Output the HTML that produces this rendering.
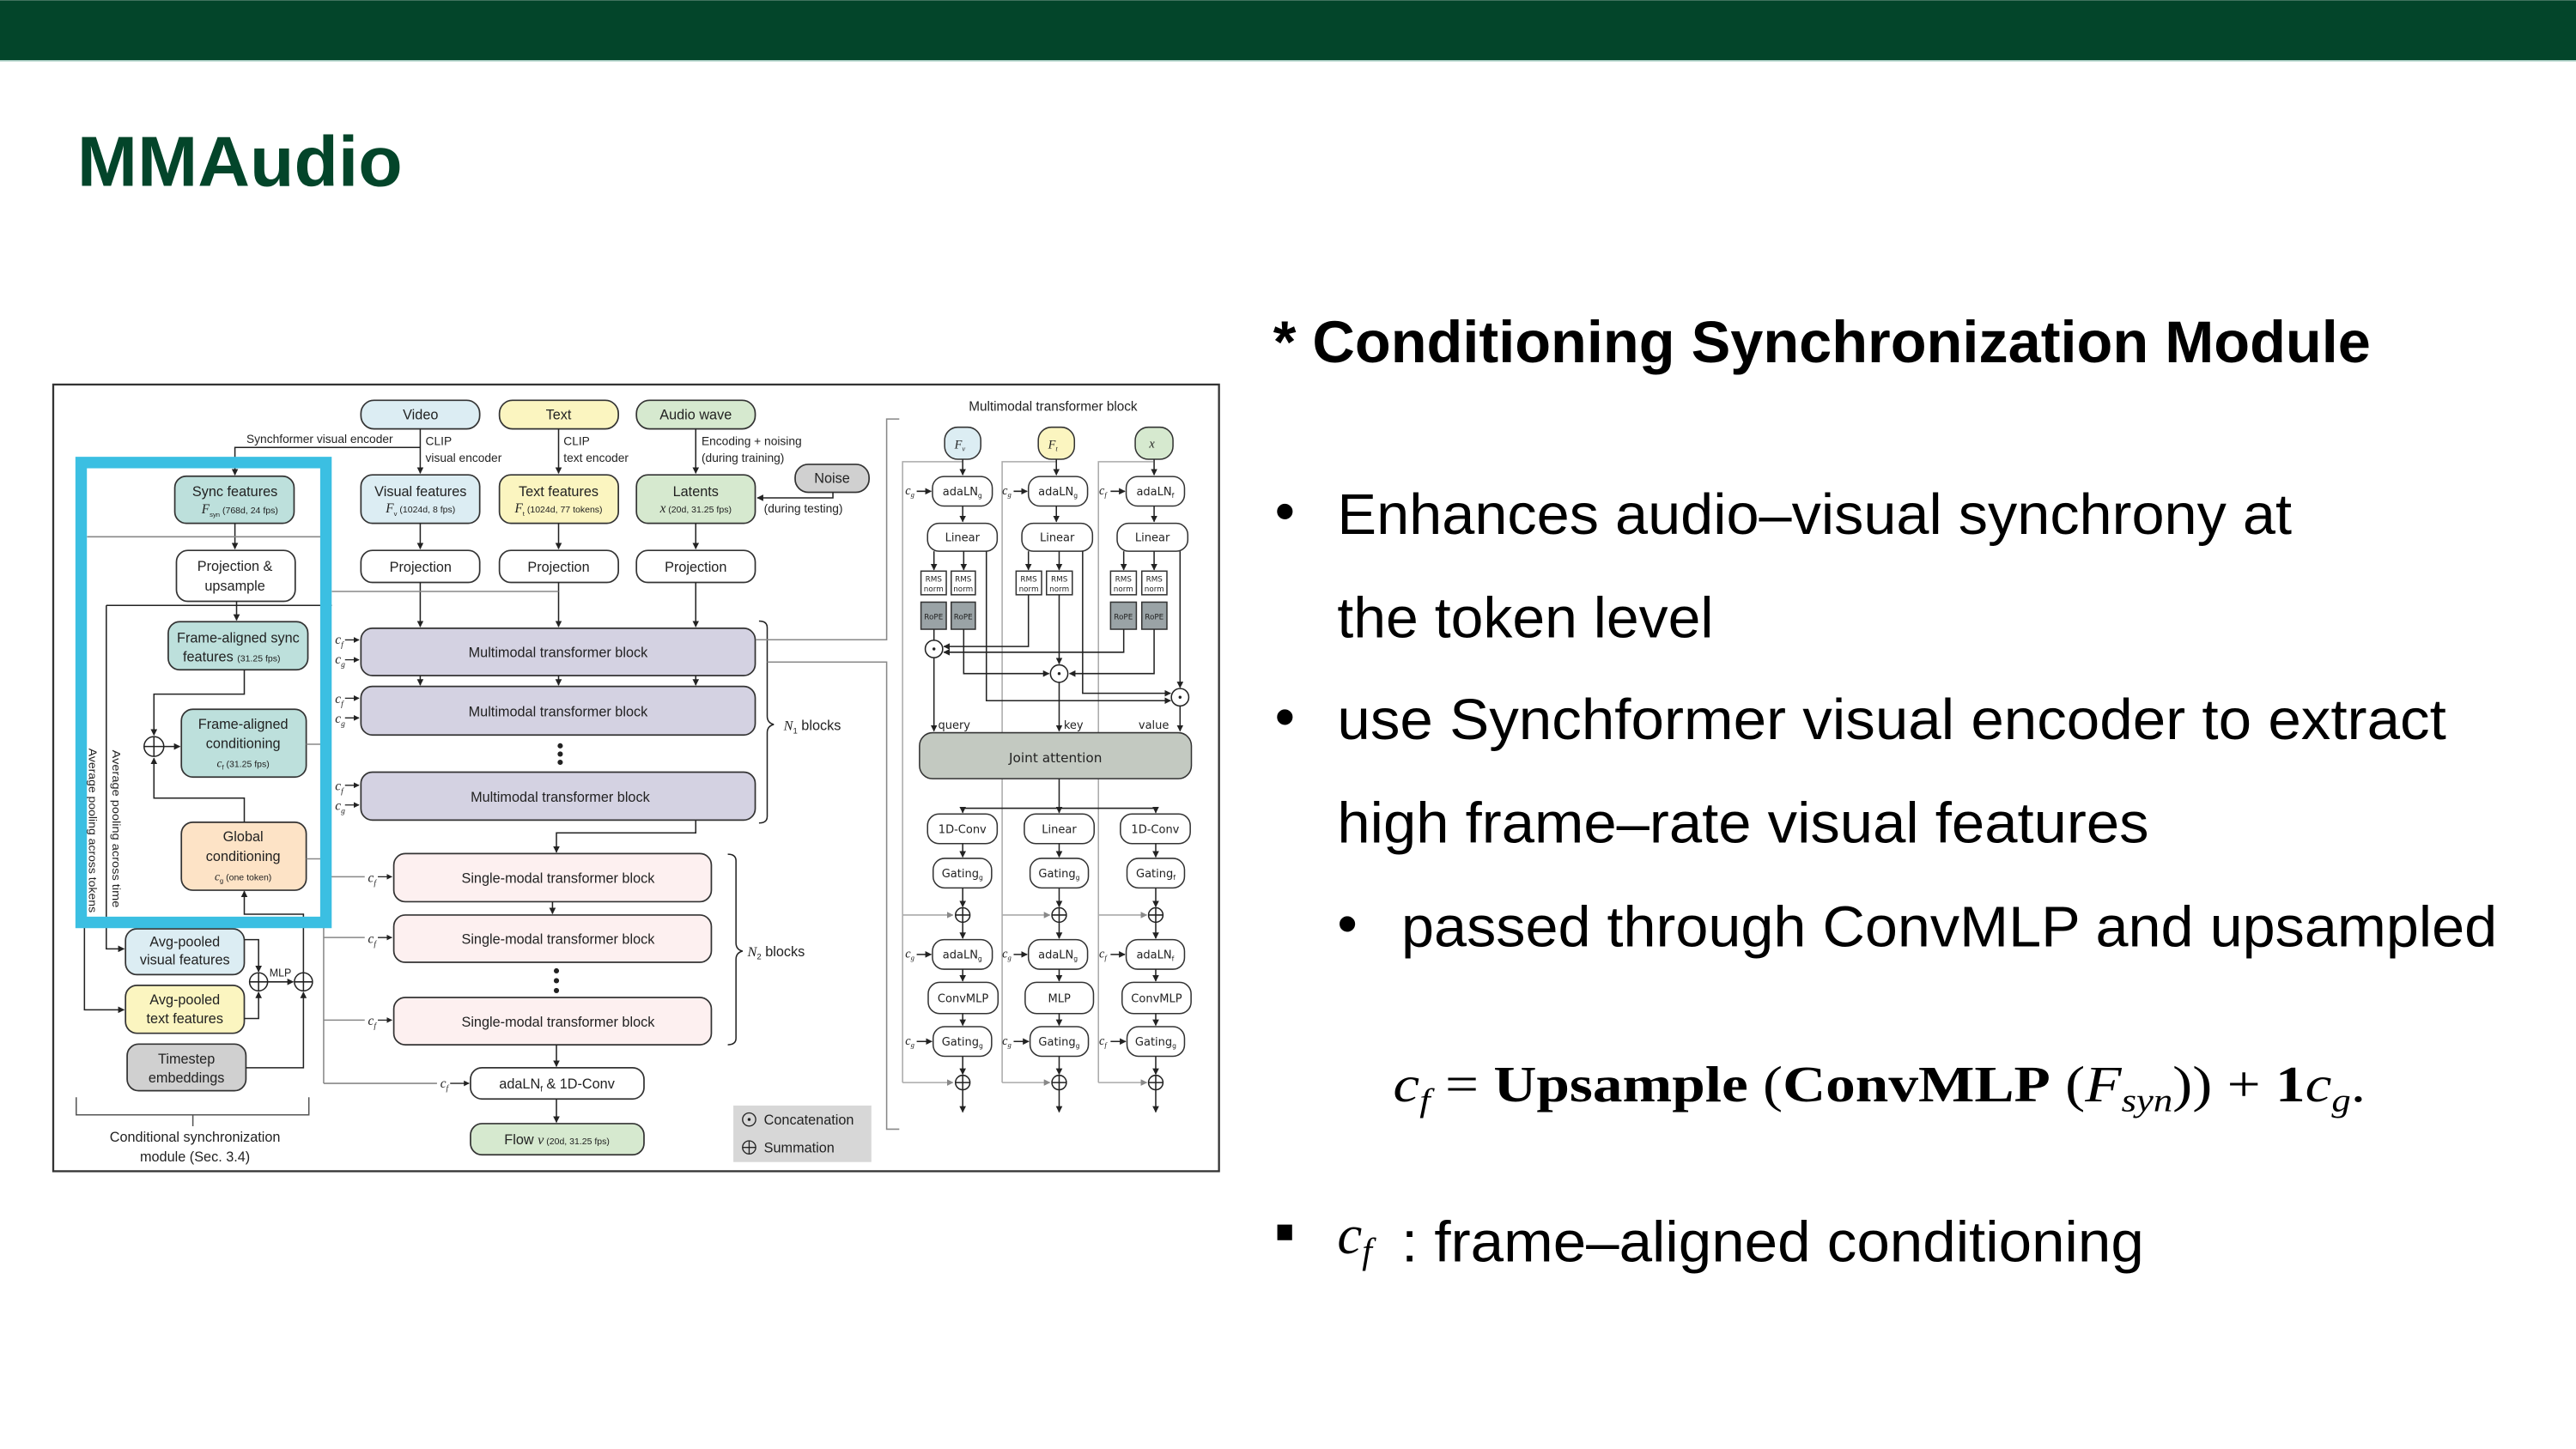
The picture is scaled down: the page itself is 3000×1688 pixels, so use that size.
<!DOCTYPE html>
<html><head><meta charset="utf-8"><style>
html,body{margin:0;padding:0;background:#fff;}
svg{display:block;}
</style></head><body>
<svg width="3000" height="1688" viewBox="0 0 1568 882" xmlns="http://www.w3.org/2000/svg" font-family="Liberation Sans, sans-serif">
<defs>
<marker id="a" viewBox="0 0 10 10" refX="9" refY="5" markerWidth="5" markerHeight="5" orient="auto"><path d="M0,0 L10,5 L0,10 z" fill="#222"/></marker>
<marker id="g" viewBox="0 0 10 10" refX="9" refY="5" markerWidth="5" markerHeight="5" orient="auto"><path d="M0,0 L10,5 L0,10 z" fill="#888"/></marker>
</defs>
<rect x="0" y="0" width="1568" height="882" fill="#fff"/>
<rect x="0" y="0" width="1568" height="36.5" fill="#03452a"/>
<rect x="0" y="36.5" width="1568" height="0.8" fill="#a9cfc4"/>
<text x="47" y="113" font-size="43" font-weight="bold" fill="#03452a" textLength="198" lengthAdjust="spacingAndGlyphs">MMAudio</text>

<!-- right text -->
<text x="775" y="220.5" font-size="36" font-weight="bold" fill="#000" textLength="668" lengthAdjust="spacingAndGlyphs">* Conditioning Synchronization Module</text>
<g font-size="35" fill="#000">
<text x="776" y="323">•</text>
<text x="814" y="325" textLength="581" lengthAdjust="spacingAndGlyphs">Enhances audio–visual synchrony at</text>
<text x="814" y="388" textLength="229" lengthAdjust="spacingAndGlyphs">the token level</text>
<text x="776" y="448">•</text>
<text x="814" y="450" textLength="675" lengthAdjust="spacingAndGlyphs">use Synchformer visual encoder to extract</text>
<text x="814" y="513" textLength="494" lengthAdjust="spacingAndGlyphs">high frame–rate visual features</text>
<text x="814" y="574">•</text>
<text x="853" y="576" textLength="667" lengthAdjust="spacingAndGlyphs">passed through ConvMLP and upsampled</text>
</g>
<text x="848" y="670.5" font-family="Liberation Serif, serif" font-size="31" fill="#000" textLength="592" lengthAdjust="spacingAndGlyphs"><tspan font-style="italic">c</tspan><tspan font-style="italic" font-size="20" dy="6">f</tspan><tspan dy="-6"> = </tspan><tspan font-weight="bold">Upsample</tspan> (<tspan font-weight="bold">ConvMLP</tspan> (<tspan font-style="italic">F</tspan><tspan font-style="italic" font-size="20" dy="6">syn</tspan><tspan dy="-6">)) + </tspan><tspan font-weight="bold">1</tspan><tspan font-style="italic">c</tspan><tspan font-style="italic" font-size="20" dy="6">g</tspan><tspan dy="-6">.</tspan></text>
<rect x="777.5" y="745.5" width="9" height="9.5" fill="#000"/>
<text x="814" y="763" font-family="Liberation Serif, serif" font-style="italic" font-size="34">c<tspan font-size="22" dy="6">f</tspan></text>
<text x="853" y="768" font-size="35" fill="#000" textLength="452" lengthAdjust="spacingAndGlyphs">: frame–aligned conditioning</text>

<!-- diagram frame -->
<rect x="32.4" y="234" width="709.6" height="479" fill="#fff" stroke="#333" stroke-width="1.2"/>

<g stroke="#333" stroke-width="0.9">
<rect x="219.7" y="243.6" width="72.3" height="17.4" rx="8" fill="#dcedf3"/>
<rect x="304" y="243.6" width="72.4" height="17.4" rx="8" fill="#fbf5c0"/>
<rect x="387.4" y="243.6" width="72.3" height="17.4" rx="8" fill="#d6e9cf"/>
<rect x="106.4" y="289.8" width="72.6" height="28.7" rx="7" fill="#bde0dc"/>
<rect x="219.7" y="289" width="72.3" height="29.5" rx="7" fill="#dcedf3"/>
<rect x="304" y="289" width="72.4" height="29.5" rx="7" fill="#fbf5c0"/>
<rect x="387.4" y="289" width="72.3" height="29.5" rx="7" fill="#d6e9cf"/>
<rect x="484" y="282.6" width="45" height="17" rx="8" fill="#d0d0d0"/>
<rect x="107.4" y="335" width="72.3" height="31" rx="7" fill="#fff"/>
<rect x="219.7" y="335" width="72.3" height="19.5" rx="7" fill="#fff"/>
<rect x="304" y="335" width="72.4" height="19.5" rx="7" fill="#fff"/>
<rect x="387.4" y="335" width="72.3" height="19.5" rx="7" fill="#fff"/>
<rect x="102.4" y="378.4" width="85" height="29.3" rx="7" fill="#bde0dc"/>
<rect x="110.4" y="431.7" width="76" height="41.3" rx="7" fill="#bde0dc"/>
<rect x="110.4" y="500.5" width="76" height="41.4" rx="7" fill="#fde3c6"/>
<rect x="219.7" y="382.4" width="240" height="28.8" rx="7" fill="#d4d2e2"/>
<rect x="219.7" y="417.8" width="240" height="29.6" rx="7" fill="#d4d2e2"/>
<rect x="219.7" y="470" width="240" height="29.2" rx="7" fill="#d4d2e2"/>
<rect x="239.7" y="519.6" width="193.3" height="29.3" rx="7" fill="#fdf0f0"/>
<rect x="239.7" y="557" width="193.3" height="28.8" rx="7" fill="#fdf0f0"/>
<rect x="239.7" y="607.2" width="193.3" height="28.8" rx="7" fill="#fdf0f0"/>
<rect x="286.4" y="650" width="105.6" height="19" rx="7" fill="#fff"/>
<rect x="286.4" y="684" width="105.6" height="19" rx="7" fill="#d6e9cf"/>
<rect x="76.4" y="565.4" width="72.3" height="27.9" rx="7" fill="#dcedf3"/>
<rect x="76.4" y="599.8" width="72.3" height="29.2" rx="7" fill="#fbf5c0"/>
<rect x="77.4" y="635.6" width="72.3" height="28.4" rx="7" fill="#d0d0d0"/>
</g>
<rect x="446.4" y="673" width="84" height="34.4" fill="#d7d7d7"/>

<g stroke="#222" stroke-width="0.8" fill="none">
<path d="M255.8,261 V288" marker-end="url(#a)"/>
<path d="M255.8,272.3 H143 V289" marker-end="url(#a)"/>
<path d="M340,261 V288" marker-end="url(#a)"/>
<path d="M423.5,261 V288" marker-end="url(#a)"/>
<path d="M507,299.6 V303 H461" marker-end="url(#a)"/>
<path d="M143,318.5 V334" marker-end="url(#a)"/>
<path d="M255.8,318.5 V334" marker-end="url(#a)"/>
<path d="M340,318.5 V334" marker-end="url(#a)"/>
<path d="M423.5,318.5 V334" marker-end="url(#a)"/>
<path d="M144,366 V377.5" marker-end="url(#a)"/>
<path d="M255.8,354.5 V381.5" marker-end="url(#a)"/>
<path d="M340,354.5 V381.5" marker-end="url(#a)"/>
<path d="M423.5,354.5 V381.5" marker-end="url(#a)"/>
<path d="M255.8,411.2 V417" marker-end="url(#a)"/>
<path d="M340,411.2 V417" marker-end="url(#a)"/>
<path d="M423.5,411.2 V417" marker-end="url(#a)"/>
<path d="M148.7,407.7 V422.5 H93.7 V447.5" marker-end="url(#a)"/>
<path d="M148.7,500.5 V485.8 H93.7 V461.5" marker-end="url(#a)"/>
<path d="M99.7,454.4 H109.5" marker-end="url(#a)"/>
<circle cx="93.7" cy="454.4" r="6"/>
<path d="M87.7,454.4 H99.7 M93.7,448.4 V460.4"/>
<path d="M64.7,368.5 H202"/>
<path d="M64.7,368.5 V577.6 H75.5" marker-end="url(#a)"/>
<path d="M51.4,330 V614.7 H75.5" marker-end="url(#a)"/>
<path d="M148.7,572 H157.4 V591.5" marker-end="url(#a)"/>
<path d="M148.7,620 H157.4 V604" marker-end="url(#a)"/>
<circle cx="157.4" cy="597.7" r="5.5"/>
<path d="M151.9,597.7 H162.9 M157.4,592.2 V603.2"/>
<path d="M162.9,597.7 H178.5" marker-end="url(#a)"/>
<circle cx="184.7" cy="597.7" r="5.5"/>
<path d="M179.2,597.7 H190.2 M184.7,592.2 V603.2"/>
<path d="M149.7,650 H184.7 V604" marker-end="url(#a)"/>
<path d="M184.7,592.2 V556.5 H148.7 V542.5" marker-end="url(#a)"/>
<path d="M423.5,499.2 V507 H338.7 V518.8" marker-end="url(#a)"/>
<path d="M336.3,548.9 V556.2" marker-end="url(#a)"/>
<path d="M338.7,636 V649.2" marker-end="url(#a)"/>
<path d="M338.7,669 V683.2" marker-end="url(#a)"/>
<path d="M462,378 q5,0 5,4 V436 q0,4 4,5 q-4,1 -4,5 V497 q0,4 -5,4"/>
<path d="M443,520 q5,0 5,4 V574 q0,4 4,5 q-4,1 -4,5 V632 q0,4 -5,4"/>
<path d="M46.4,668 V678.7 H188 V668 M117.4,678.7 V685.6" stroke="#555"/>
</g>
<g stroke="#888" stroke-width="0.8" fill="none">
<path d="M53,326.7 H195"/>
<path d="M197,403 V659.5"/>
<path d="M186.4,453 H197 M186.4,522.8 H197"/>
<path d="M197,533.7 H222 M197,570.7 H222 M197,621 H222 M197,659.5 H266"/>
<path d="M202,360 H340 M460,389.4 H539.7 V255 H547.4 M467,403 H539.7 V687.4 H547.4"/>
</g>
<rect x="49.4" y="281.5" width="149" height="280" fill="none" stroke="#3bbfe2" stroke-width="7"/>

<g font-family="Liberation Serif, serif" font-style="italic" font-size="8" fill="#222">
<text x="204" y="392">c<tspan font-size="5" dy="2">f</tspan></text>
<text x="204" y="404">c<tspan font-size="5" dy="2">g</tspan></text>
<text x="204" y="428">c<tspan font-size="5" dy="2">f</tspan></text>
<text x="204" y="440">c<tspan font-size="5" dy="2">g</tspan></text>
<text x="204" y="481">c<tspan font-size="5" dy="2">f</tspan></text>
<text x="204" y="493">c<tspan font-size="5" dy="2">g</tspan></text>
<text x="224" y="537">c<tspan font-size="5" dy="2">f</tspan></text>
<text x="224" y="574">c<tspan font-size="5" dy="2">f</tspan></text>
<text x="224" y="624">c<tspan font-size="5" dy="2">f</tspan></text>
<text x="268" y="662">c<tspan font-size="5" dy="2">f</tspan></text>
</g>
<g stroke="#222" stroke-width="0.7" fill="none">
<path d="M210,389.5 H218.5" marker-end="url(#a)"/><path d="M210,401.6 H218.5" marker-end="url(#a)"/>
<path d="M210,425 H218.5" marker-end="url(#a)"/><path d="M210,437 H218.5" marker-end="url(#a)"/>
<path d="M210,478 H218.5" marker-end="url(#a)"/><path d="M210,490 H218.5" marker-end="url(#a)"/>
<path d="M230,533.7 H238.5" marker-end="url(#a)"/><path d="M230,570.7 H238.5" marker-end="url(#a)"/>
<path d="M230,621 H238.5" marker-end="url(#a)"/><path d="M274,659.5 H285.5" marker-end="url(#a)"/>
</g>
<g fill="#222">
<circle cx="341" cy="454" r="1.6"/><circle cx="341" cy="459" r="1.6"/><circle cx="341" cy="464" r="1.6"/>
<circle cx="338.7" cy="591" r="1.6"/><circle cx="338.7" cy="597" r="1.6"/><circle cx="338.7" cy="603" r="1.6"/>
</g>

<g font-size="8.5" fill="#222" text-anchor="middle">
<text x="256" y="255.3">Video</text>
<text x="340" y="255.3">Text</text>
<text x="423.5" y="255.3">Audio wave</text>
<text x="143" y="302">Sync features</text>
<text x="256" y="302">Visual features</text>
<text x="340" y="302">Text features</text>
<text x="423.5" y="302">Latents</text>
<text x="506.5" y="294">Noise</text>
<text x="143" y="347.5">Projection &amp;</text>
<text x="143" y="359.5">upsample</text>
<text x="256" y="348">Projection</text>
<text x="340" y="348">Projection</text>
<text x="423.5" y="348">Projection</text>
<text x="145" y="391">Frame-aligned sync</text>
<text x="141" y="402.5">features <tspan font-size="5.5">(31.25 fps)</tspan></text>
<text x="148" y="443.5">Frame-aligned</text>
<text x="148" y="455.5">conditioning</text>
<text x="148" y="512">Global</text>
<text x="148" y="524">conditioning</text>
<text x="339.7" y="400">Multimodal transformer block</text>
<text x="339.7" y="436">Multimodal transformer block</text>
<text x="341" y="488">Multimodal transformer block</text>
<text x="339.7" y="537.5">Single-modal transformer block</text>
<text x="339.7" y="574.5">Single-modal transformer block</text>
<text x="339.7" y="625">Single-modal transformer block</text>
<text x="339" y="662.5">adaLN<tspan font-size="5" dy="2">f</tspan><tspan dy="-2"> &amp; 1D-Conv</tspan></text>
<text x="339" y="696.5">Flow <tspan font-family="Liberation Serif, serif" font-style="italic">v</tspan><tspan font-size="5.5"> (20d, 31.25 fps)</tspan></text>
<text x="112.5" y="576">Avg-pooled</text>
<text x="112.5" y="587">visual features</text>
<text x="112.5" y="611.5">Avg-pooled</text>
<text x="112.5" y="623">text features</text>
<text x="113.5" y="647.5">Timestep</text>
<text x="113.5" y="659">embeddings</text>
<text x="118.7" y="695">Conditional synchronization</text>
<text x="118.7" y="707">module (Sec. 3.4)</text>
</g>
<g font-size="5.5" fill="#222" text-anchor="middle">
<text x="146" y="312.5"><tspan font-family="Liberation Serif, serif" font-style="italic" font-size="8">F</tspan><tspan font-size="4" dy="2">syn</tspan><tspan dy="-2"> (768d, 24 fps)</tspan></text>
<text x="256" y="312"><tspan font-family="Liberation Serif, serif" font-style="italic" font-size="8">F</tspan><tspan font-size="4" dy="2">v</tspan><tspan dy="-2"> (1024d, 8 fps)</tspan></text>
<text x="340" y="312"><tspan font-family="Liberation Serif, serif" font-style="italic" font-size="8">F</tspan><tspan font-size="4" dy="2">t</tspan><tspan dy="-2"> (1024d, 77 tokens)</tspan></text>
<text x="423.5" y="312"><tspan font-family="Liberation Serif, serif" font-style="italic" font-size="8">x</tspan> (20d, 31.25 fps)</text>
<text x="148" y="467"><tspan font-family="Liberation Serif, serif" font-style="italic" font-size="7">c</tspan><tspan font-size="4" dy="1.5">f</tspan><tspan dy="-1.5"> (31.25 fps)</tspan></text>
<text x="148" y="536"><tspan font-family="Liberation Serif, serif" font-style="italic" font-size="7">c</tspan><tspan font-size="4" dy="1.5">g</tspan><tspan dy="-1.5"> (one token)</tspan></text>
</g>
<g font-size="7.2" fill="#222">
<text x="150" y="269.5">Synchformer visual encoder</text>
<text x="259" y="271">CLIP</text><text x="259" y="281">visual encoder</text>
<text x="343" y="271">CLIP</text><text x="343" y="281">text encoder</text>
<text x="427" y="271">Encoding + noising</text><text x="427" y="281">(during training)</text>
<text x="465" y="312">(during testing)</text>
<text x="164" y="594.5" font-size="6.5">MLP</text>
<text x="455" y="582" font-size="8.5"><tspan font-family="Liberation Serif, serif" font-style="italic">N</tspan><tspan font-size="5" dy="2">2</tspan><tspan dy="-2"> blocks</tspan></text>
<text x="477" y="444.5" font-size="8.5"><tspan font-family="Liberation Serif, serif" font-style="italic">N</tspan><tspan font-size="5" dy="2">1</tspan><tspan dy="-2"> blocks</tspan></text>
<text x="465" y="684.5" font-size="8.5">Concatenation</text>
<text x="465" y="701.5" font-size="8.5">Summation</text>
</g>
<g stroke="#222" stroke-width="0.7" fill="none">
<circle cx="456" cy="681.5" r="4"/><circle cx="456" cy="698.5" r="4"/>
<path d="M452,698.5 H460 M456,694.5 V702.5"/>
</g>
<circle cx="456" cy="681.5" r="0.9" fill="#222"/>
<g font-size="6.6" fill="#222">
<text transform="translate(54,455.5) rotate(90)" textLength="100" lengthAdjust="spacingAndGlyphs">Average pooling across tokens</text>
<text transform="translate(68.5,456.5) rotate(90)" textLength="96" lengthAdjust="spacingAndGlyphs">Average pooling across time</text>
</g>

<text x="641" y="250" font-size="8" fill="#222" text-anchor="middle">Multimodal transformer block</text>
<g stroke="#aaa" stroke-width="0.8" fill="none">
<path d="M586,281 H549.4 V659 M549.4,557 H580" marker-end="url(#g)"/>
<path d="M549.4,659 H580" marker-end="url(#g)"/>
<path d="M643,281 H610 V659 M610,557 H639" marker-end="url(#g)"/>
<path d="M610,659 H639" marker-end="url(#g)"/>
<path d="M702,281 H668.6 V659 M668.6,557 H698" marker-end="url(#g)"/>
<path d="M668.6,659 H698" marker-end="url(#g)"/>
</g>
<g stroke="#333" stroke-width="0.8">
<rect x="575" y="260" width="22" height="19.5" rx="8" fill="#dcedf3"/>
<rect x="632" y="260" width="22" height="19.5" rx="8" fill="#fbf5c0"/>
<rect x="691" y="260" width="23" height="19.5" rx="8" fill="#d6e9cf"/>
<rect x="567.6" y="290" width="36.4" height="18" rx="7" fill="#fff"/>
<rect x="626" y="290" width="36" height="18" rx="7" fill="#fff"/>
<rect x="685.5" y="290" width="35.5" height="18" rx="7" fill="#fff"/>
<rect x="564.6" y="318.5" width="42.4" height="17" rx="7" fill="#fff"/>
<rect x="622" y="318.5" width="43" height="17" rx="7" fill="#fff"/>
<rect x="680" y="318.5" width="43" height="17" rx="7" fill="#fff"/>
<rect x="560.6" y="347.6" width="15.4" height="14.4" fill="#fff"/>
<rect x="579" y="347.6" width="14.7" height="14.4" fill="#fff"/>
<rect x="618.5" y="347.6" width="15.5" height="14.4" fill="#fff"/>
<rect x="637" y="347.6" width="15.7" height="14.4" fill="#fff"/>
<rect x="676" y="347.6" width="15.7" height="14.4" fill="#fff"/>
<rect x="695" y="347.6" width="15.3" height="14.4" fill="#fff"/>
<rect x="560.6" y="366.5" width="15.4" height="16.5" fill="#9aa3a6"/>
<rect x="579" y="366.5" width="14.7" height="16.5" fill="#9aa3a6"/>
<rect x="676" y="366.5" width="15.7" height="16.5" fill="#9aa3a6"/>
<rect x="695" y="366.5" width="15.3" height="16.5" fill="#9aa3a6"/>
<rect x="559.7" y="446" width="165.5" height="28" rx="8" fill="#c3c9c1"/>
<rect x="564.6" y="495.5" width="42.4" height="18" rx="7" fill="#fff"/>
<rect x="623.5" y="495.5" width="42.5" height="18" rx="7" fill="#fff"/>
<rect x="682" y="495.5" width="42.5" height="18" rx="7" fill="#fff"/>
<rect x="568" y="522.5" width="35.6" height="18" rx="7" fill="#fff"/>
<rect x="627" y="522.5" width="35.5" height="18" rx="7" fill="#fff"/>
<rect x="686" y="522.5" width="35" height="18" rx="7" fill="#fff"/>
<rect x="567.6" y="572" width="36.4" height="18" rx="7" fill="#fff"/>
<rect x="626" y="572" width="36" height="18" rx="7" fill="#fff"/>
<rect x="685.5" y="572" width="35.5" height="18" rx="7" fill="#fff"/>
<rect x="565" y="598" width="42.5" height="19" rx="7" fill="#fff"/>
<rect x="624" y="598" width="41.6" height="19" rx="7" fill="#fff"/>
<rect x="683" y="598" width="42" height="19" rx="7" fill="#fff"/>
<rect x="568" y="625" width="35.6" height="18" rx="7" fill="#fff"/>
<rect x="627" y="625" width="35.5" height="18" rx="7" fill="#fff"/>
<rect x="686" y="625" width="35" height="18" rx="7" fill="#fff"/>
</g>
<g stroke="#222" stroke-width="0.8" fill="none">
<path d="M586,279.5 V289" marker-end="url(#a)"/>
<path d="M643,279.5 V289" marker-end="url(#a)"/>
<path d="M702.5,279.5 V289" marker-end="url(#a)"/>
<path d="M586,308 V317.5" marker-end="url(#a)"/>
<path d="M643,308 V317.5" marker-end="url(#a)"/>
<path d="M702.5,308 V317.5" marker-end="url(#a)"/>
<path d="M568.5,335.5 V346.8" marker-end="url(#a)"/>
<path d="M586.6,335.5 V346.8" marker-end="url(#a)"/>
<path d="M626,335.5 V346.8" marker-end="url(#a)"/>
<path d="M644.7,335.5 V346.8" marker-end="url(#a)"/>
<path d="M684,335.5 V346.8" marker-end="url(#a)"/>
<path d="M702.5,335.5 V346.8" marker-end="url(#a)"/>
<path d="M568.5,383 V389.5"/>
<path d="M586.6,383 V410 H638.5" marker-end="url(#a)"/>
<path d="M600.4,335.5 V426.5 H712.5" marker-end="url(#a)"/>
<path d="M626,362 V393.5 H574.5" marker-end="url(#a)"/>
<path d="M644.7,362 V404" marker-end="url(#a)"/>
<path d="M659,335.5 V422 H712.5" marker-end="url(#a)"/>
<path d="M684,383 V397 H574.5" marker-end="url(#a)"/>
<path d="M702.5,383 V410 H651" marker-end="url(#a)"/>
<path d="M718.3,335.5 V418.5" marker-end="url(#a)"/>
<path d="M568.5,400.5 V445" marker-end="url(#a)"/>
<path d="M644.7,415.5 V445" marker-end="url(#a)"/>
<path d="M718.3,430 V445" marker-end="url(#a)"/>
<circle cx="568.5" cy="395" r="5.3" fill="#fff"/>
<circle cx="644.7" cy="410" r="5.3" fill="#fff"/>
<circle cx="718.3" cy="424.4" r="5.3" fill="#fff"/>
<path d="M644.7,474 V492 M586,492 H704"/>
<path d="M586,492 V494.7" marker-end="url(#a)"/>
<path d="M644.7,492 V494.7" marker-end="url(#a)"/>
<path d="M703.5,492 V494.7" marker-end="url(#a)"/>
<path d="M586,513.5 V521.7" marker-end="url(#a)"/>
<path d="M644.7,513.5 V521.7" marker-end="url(#a)"/>
<path d="M703.5,513.5 V521.7" marker-end="url(#a)"/>
<path d="M586,540.5 V552" marker-end="url(#a)"/>
<path d="M644.7,540.5 V552" marker-end="url(#a)"/>
<path d="M703.5,540.5 V552" marker-end="url(#a)"/>
<path d="M586,561.5 V571.2" marker-end="url(#a)"/>
<path d="M644.7,561.5 V571.2" marker-end="url(#a)"/>
<path d="M703.5,561.5 V571.2" marker-end="url(#a)"/>
<path d="M586,590 V597.2" marker-end="url(#a)"/>
<path d="M644.7,590 V597.2" marker-end="url(#a)"/>
<path d="M703.5,590 V597.2" marker-end="url(#a)"/>
<path d="M586,617 V624.2" marker-end="url(#a)"/>
<path d="M644.7,617 V624.2" marker-end="url(#a)"/>
<path d="M703.5,617 V624.2" marker-end="url(#a)"/>
<path d="M586,643 V654" marker-end="url(#a)"/>
<path d="M644.7,643 V654" marker-end="url(#a)"/>
<path d="M703.5,643 V654" marker-end="url(#a)"/>
<path d="M586,663.5 V677" marker-end="url(#a)"/>
<path d="M644.7,663.5 V677" marker-end="url(#a)"/>
<path d="M703.5,663.5 V677" marker-end="url(#a)"/>
<circle cx="586" cy="557" r="4.4" fill="#fff"/><path d="M581.6,557 H590.4 M586,552.6 V561.4"/>
<circle cx="644.7" cy="557" r="4.4" fill="#fff"/><path d="M640.3,557 H649.1 M644.7,552.6 V561.4"/>
<circle cx="703.5" cy="557" r="4.4" fill="#fff"/><path d="M699.1,557 H707.9 M703.5,552.6 V561.4"/>
<circle cx="586" cy="659" r="4.4" fill="#fff"/><path d="M581.6,659 H590.4 M586,654.6 V663.4"/>
<circle cx="644.7" cy="659" r="4.4" fill="#fff"/><path d="M640.3,659 H649.1 M644.7,654.6 V663.4"/>
<circle cx="703.5" cy="659" r="4.4" fill="#fff"/><path d="M699.1,659 H707.9 M703.5,654.6 V663.4"/>
<path d="M558,299 H566.8" marker-end="url(#a)"/>
<path d="M617,299 H625.2" marker-end="url(#a)"/>
<path d="M676,299 H684.7" marker-end="url(#a)"/>
<path d="M558,581 H566.8" marker-end="url(#a)"/>
<path d="M617,581 H625.2" marker-end="url(#a)"/>
<path d="M676,581 H684.7" marker-end="url(#a)"/>
<path d="M558,634 H567.2" marker-end="url(#a)"/>
<path d="M617,634 H626.2" marker-end="url(#a)"/>
<path d="M676,634 H685.2" marker-end="url(#a)"/>
</g>
<g fill="#222">
<circle cx="568.5" cy="395" r="0.9"/><circle cx="644.7" cy="410" r="0.9"/><circle cx="718.3" cy="424.4" r="0.9"/>
</g>
<g font-family="Liberation Serif, serif" font-style="italic" font-size="7.5" fill="#222">
<text x="581" y="273">F<tspan font-size="4.5" dy="1.5">v</tspan></text>
<text x="638" y="273">F<tspan font-size="4.5" dy="1.5">t</tspan></text>
<text x="699.5" y="272.5">x</text>
<text x="551" y="301">c<tspan font-size="4.5" dy="1.5">g</tspan></text>
<text x="610" y="301">c<tspan font-size="4.5" dy="1.5">g</tspan></text>
<text x="669" y="301">c<tspan font-size="4.5" dy="1.5">f</tspan></text>
<text x="551" y="583">c<tspan font-size="4.5" dy="1.5">g</tspan></text>
<text x="610" y="583">c<tspan font-size="4.5" dy="1.5">g</tspan></text>
<text x="669" y="583">c<tspan font-size="4.5" dy="1.5">f</tspan></text>
<text x="551" y="636">c<tspan font-size="4.5" dy="1.5">g</tspan></text>
<text x="610" y="636">c<tspan font-size="4.5" dy="1.5">g</tspan></text>
<text x="669" y="636">c<tspan font-size="4.5" dy="1.5">f</tspan></text>
</g>
<g font-family="DejaVu Sans, sans-serif" font-size="6.8" fill="#222" text-anchor="middle">
<text x="585.8" y="301.5">adaLN<tspan font-size="4" dy="1.5">g</tspan></text>
<text x="644" y="301.5">adaLN<tspan font-size="4" dy="1.5">g</tspan></text>
<text x="703.2" y="301.5">adaLN<tspan font-size="4" dy="1.5">f</tspan></text>
<text x="585.8" y="329.5">Linear</text>
<text x="643.5" y="329.5">Linear</text>
<text x="701.5" y="329.5">Linear</text>
<text x="585.8" y="507">1D-Conv</text>
<text x="644.7" y="507">Linear</text>
<text x="703.2" y="507">1D-Conv</text>
<text x="585.8" y="534">Gating<tspan font-size="4" dy="1.5">g</tspan></text>
<text x="644.7" y="534">Gating<tspan font-size="4" dy="1.5">g</tspan></text>
<text x="703.5" y="534">Gating<tspan font-size="4" dy="1.5">f</tspan></text>
<text x="585.8" y="583.5">adaLN<tspan font-size="4" dy="1.5">g</tspan></text>
<text x="644" y="583.5">adaLN<tspan font-size="4" dy="1.5">g</tspan></text>
<text x="703.2" y="583.5">adaLN<tspan font-size="4" dy="1.5">f</tspan></text>
<text x="586.2" y="610">ConvMLP</text>
<text x="644.8" y="610">MLP</text>
<text x="704" y="610">ConvMLP</text>
<text x="585.8" y="636.5">Gating<tspan font-size="4" dy="1.5">g</tspan></text>
<text x="644.7" y="636.5">Gating<tspan font-size="4" dy="1.5">g</tspan></text>
<text x="703.5" y="636.5">Gating<tspan font-size="4" dy="1.5">g</tspan></text>
<text x="642.5" y="464" font-size="8">Joint attention</text>
</g>
<g font-family="DejaVu Sans, sans-serif" font-size="4.6" fill="#222" text-anchor="middle">
<text x="568.3" y="354">RMS</text><text x="568.3" y="360">norm</text>
<text x="586.3" y="354">RMS</text><text x="586.3" y="360">norm</text>
<text x="626.2" y="354">RMS</text><text x="626.2" y="360">norm</text>
<text x="644.8" y="354">RMS</text><text x="644.8" y="360">norm</text>
<text x="683.8" y="354">RMS</text><text x="683.8" y="360">norm</text>
<text x="702.6" y="354">RMS</text><text x="702.6" y="360">norm</text>
<text x="568.3" y="377">RoPE</text><text x="586.3" y="377">RoPE</text>
<text x="683.8" y="377">RoPE</text><text x="702.6" y="377">RoPE</text>
</g>
<g font-family="DejaVu Sans, sans-serif" font-size="6.8" fill="#222">
<text x="571" y="443.5">query</text>
<text x="647.5" y="443.5">key</text>
<text x="693" y="443.5">value</text>
</g>
</svg>
</body></html>
